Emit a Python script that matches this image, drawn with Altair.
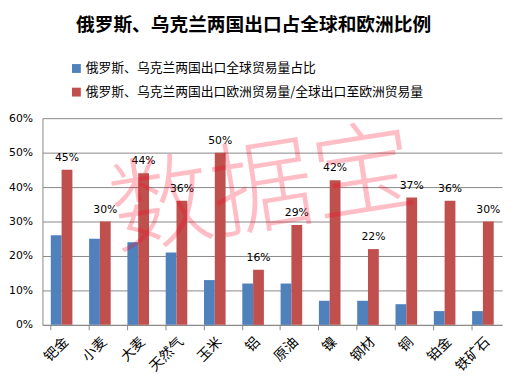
import altair as alt
import pandas as pd

categories = ["钯金", "小麦", "大麦", "天然气", "玉米", "铝", "原油", "镍", "钢材", "铜", "铂金", "铁矿石"]
global_share = [26, 25, 24, 21, 13, 12, 12, 7, 7, 6, 4, 4]
europe_share = [45, 30, 44, 36, 50, 16, 29, 42, 22, 37, 36, 30]
series_names = ["俄罗斯、乌克兰两国出口全球贸易量占比", "俄罗斯、乌克兰两国出口欧洲贸易量/全球出口至欧洲贸易量"]
colors = ["#4F81BD", "#C0504D"]
title_text = "俄罗斯、乌克兰两国出口占全球和欧洲比例"
watermark = "数据宝"
y_ticks = [0, 0.1, 0.2, 0.3, 0.4, 0.5, 0.6]

rows = []
for c, a, b in zip(categories, global_share, europe_share):
    rows.append({"cat": c, "series": series_names[0], "v": a / 100})
    rows.append({"cat": c, "series": series_names[1], "v": b / 100})
df = pd.DataFrame(rows)
df_red = pd.DataFrame({"cat": categories, "v": [b / 100 for b in europe_share]})

FONT = "Noto Sans CJK SC"

xscale = alt.Scale(domain=categories, paddingInner=0.436, paddingOuter=0.218)
yscale = alt.Scale(domain=[0, 0.6])

x_axis = alt.Axis(title=None, labelAngle=315, labelFont=FONT, labelFontSize=14,
                  labelColor="#000", bandPosition=0, tickSize=5, tickColor="#888",
                  domainColor="#888", labelPadding=5, grid=False)
y_axis = alt.Axis(title=None, format=".0%", values=y_ticks, labelOverlap=False,
                  labelFont="DejaVu Sans", labelFontSize=11, labelColor="#000",
                  ticks=False, grid=True, gridColor="#878787", domainColor="#888",
                  labelPadding=10)

bars = alt.Chart(df).mark_bar().encode(
    x=alt.X("cat:N", scale=xscale, sort=categories, axis=x_axis),
    xOffset=alt.XOffset("series:N", sort=series_names),
    y=alt.Y("v:Q", scale=yscale, axis=y_axis),
    color=alt.Color("series:N", sort=series_names,
                    scale=alt.Scale(domain=series_names, range=colors),
                    legend=alt.Legend(title=None, orient="none", legendX=28, legendY=-57,
                                      symbolType="square", symbolSize=81, symbolStrokeWidth=0,
                                      labelFont=FONT, labelFontSize=13, labelColor="#000",
                                      labelLimit=0, rowPadding=10, labelOffset=3, symbolOpacity=1)),
)

labels = alt.Chart(df_red).mark_text(dx=5.5, dy=-12, font="DejaVu Sans", fontSize=11, color="#000").encode(
    x=alt.X("cat:N", scale=xscale, sort=categories, axis=x_axis),
    y=alt.Y("v:Q", scale=yscale, axis=y_axis),
    text=alt.Text("v:Q", format=".0%"),
)

wm = alt.Chart(pd.DataFrame({"t": [watermark]})).mark_text(
    font=FONT, fontSize=104, angle=351, color="#FF0020", opacity=0.25, fontWeight=300,
    align="center", baseline="middle"
).encode(x=alt.value(224), y=alt.value(76), text="t:N")

chart = alt.layer(bars, labels, wm).properties(
    width=467, height=210,
    title=alt.TitleParams(title_text, font=FONT, fontSize=19, fontWeight="bold", color="#000",
                          anchor="middle", dx=-19, offset=28),
    autosize=alt.AutoSizeParams(type="none"),
    padding={"left": 35, "top": 109, "right": 4, "bottom": 50},
).configure_view(stroke=None)

chart.save("out.html", embed_options={"renderer": "svg", "actions": False})
